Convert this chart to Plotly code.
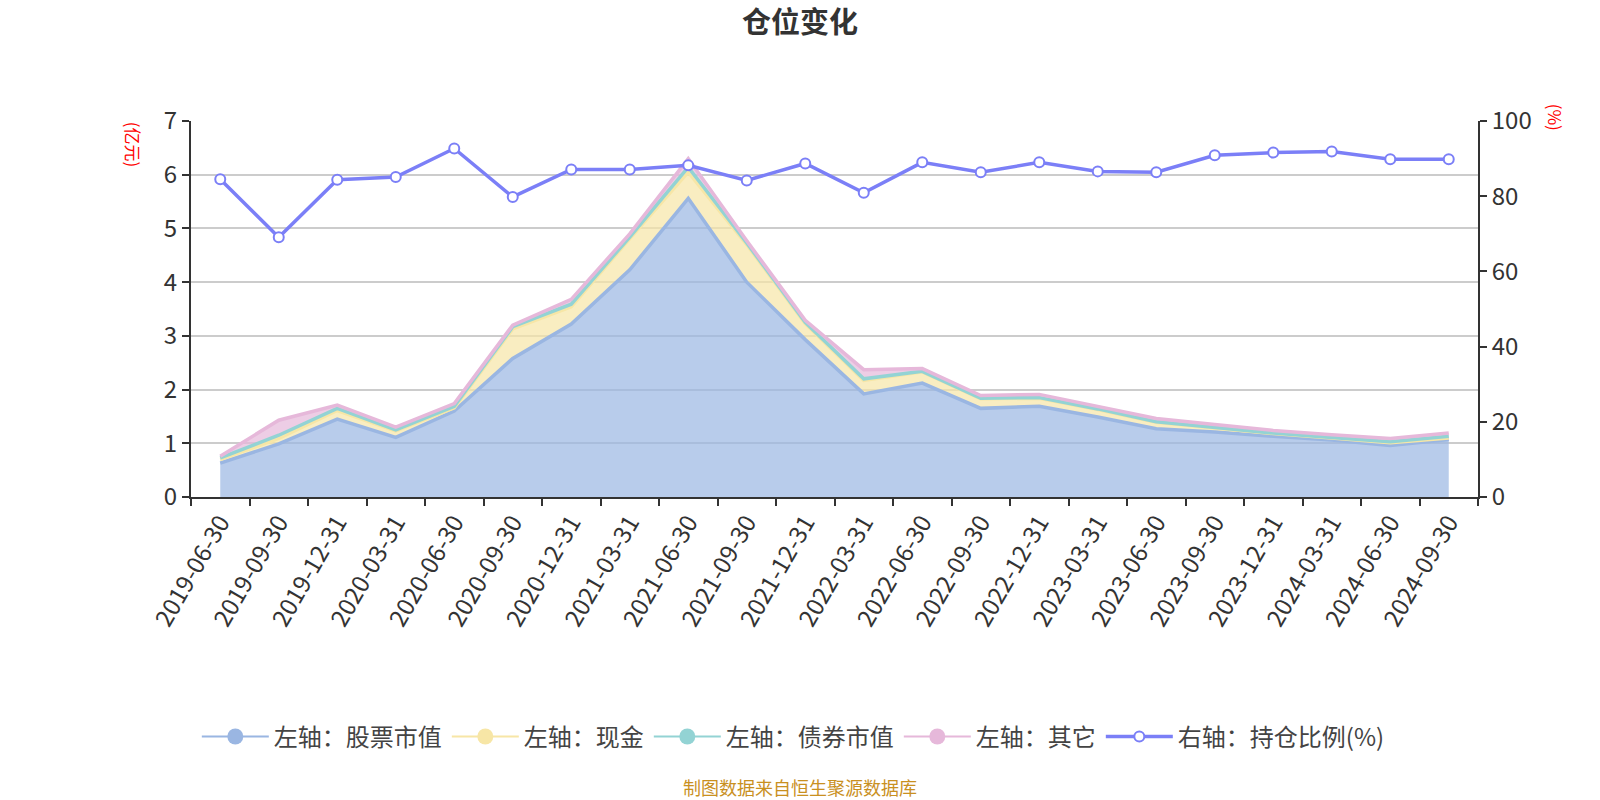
import plotly.graph_objects as go

dates = ["2019-06-30", "2019-09-30", "2019-12-31", "2020-03-31", "2020-06-30", "2020-09-30",
         "2020-12-31", "2021-03-31", "2021-06-30", "2021-09-30", "2021-12-31", "2022-03-31",
         "2022-06-30", "2022-09-30", "2022-12-31", "2023-03-31", "2023-06-30", "2023-09-30",
         "2023-12-31", "2024-03-31", "2024-06-30", "2024-09-30"]

stock = [0.63, 0.99, 1.45, 1.11, 1.60, 2.58, 3.22, 4.23, 5.56, 4.00, 2.93, 1.92,
         2.12, 1.65, 1.69, 1.49, 1.27, 1.21, 1.13, 1.06, 0.96, 1.07]
cash = [0.07, 0.10, 0.16, 0.12, 0.06, 0.55, 0.32, 0.58, 0.49, 0.70, 0.30, 0.25,
        0.21, 0.18, 0.15, 0.14, 0.12, 0.07, 0.05, 0.04, 0.05, 0.03]
bond = [0.03, 0.06, 0.04, 0.02, 0.03, 0.04, 0.05, 0.03, 0.09, 0.03, 0.02, 0.03,
        0.01, 0.01, 0.01, 0.01, 0.01, 0.01, 0.01, 0.01, 0.02, 0.03]
other = [0.03, 0.28, 0.06, 0.05, 0.05, 0.03, 0.09, 0.06, 0.16, 0.04, 0.04, 0.17,
         0.05, 0.05, 0.06, 0.05, 0.06, 0.06, 0.05, 0.05, 0.06, 0.06]
ratio = [84.5, 69.1, 84.4, 85.1, 92.7, 79.8, 87.1, 87.1, 88.2, 84.2, 88.7, 80.9,
         89.0, 86.4, 89.0, 86.6, 86.4, 90.9, 91.6, 91.9, 89.8, 89.8]

names = ["左轴：股票市值", "左轴：现金", "左轴：债券市值", "左轴：其它"]
line_colors = ["#9ab6e2", "#f7e6a6", "#93d3d4", "#e6b8da"]
fill_colors = ["rgba(154,182,226,0.7)", "rgba(247,230,166,0.7)",
               "rgba(147,211,212,0.7)", "rgba(230,184,218,0.7)"]
ratio_name = "右轴：持仓比例(%)"
ratio_color = "#7b7ff7"

FONT = "Noto Sans CJK SC, Noto Sans, sans-serif"

fig = go.Figure()
for vals, nm, lc, fc in zip([stock, cash, bond, other], names, line_colors, fill_colors):
    fig.add_trace(go.Scatter(
        x=dates, y=vals, name=nm, mode="lines", stackgroup="one",
        line=dict(color=lc, width=3.5), fillcolor=fc, showlegend=False,
        hoverinfo="x+y+name"))

# legend entries
for nm, lc in zip(names, line_colors):
    fig.add_trace(go.Scatter(
        x=[None], y=[None], name=nm, mode="lines+markers",
        line=dict(color=lc, width=2), marker=dict(color=lc, size=16)))

fig.add_trace(go.Scatter(
    x=dates, y=ratio, name=ratio_name, yaxis="y2", mode="lines+markers",
    line=dict(color=ratio_color, width=3.5),
    marker=dict(color="white", size=10, line=dict(color=ratio_color, width=2))))

fig.update_layout(
    width=1600, height=800,
    paper_bgcolor="white", plot_bgcolor="white",
    margin=dict(l=191, r=122, t=121, b=303),
    font=dict(family=FONT, color="#333333", size=24),
    title=dict(text="<b>仓位变化</b>", x=0.5, xanchor="center", y=0.972, yanchor="middle",
               font=dict(size=29, color="#333333", family=FONT)),
    xaxis=dict(type="category", range=[-0.5, 21.5], tickson="boundaries",
               ticks="outside", ticklen=7, tickwidth=2, tickcolor="#333333",
               showline=True, linecolor="#333333", linewidth=2,
               showgrid=False, tickangle=-60,
               tickfont=dict(size=24, color="#333333")),
    yaxis=dict(range=[0, 7], dtick=1, ticks="outside", ticklen=7, tickwidth=2,
               tickcolor="#333333", showline=True, linecolor="#333333", linewidth=2,
               showgrid=True, gridcolor="#cccccc", gridwidth=2, zeroline=False,
               tickfont=dict(size=24, color="#333333")),
    yaxis2=dict(range=[0, 100], dtick=20, overlaying="y", side="right",
                ticks="outside", ticklen=7, tickwidth=2, tickcolor="#333333",
                showline=True, linecolor="#333333", linewidth=2,
                showgrid=False, zeroline=False,
                tickfont=dict(size=24, color="#333333")),
    legend=dict(orientation="h", x=0.468, xanchor="center", y=-0.638, yanchor="middle",
                font=dict(size=24, color="#444444"), itemwidth=67,
                traceorder="normal"),
    annotations=[
        dict(text="(亿元)", xref="paper", yref="paper", x=-0.044, y=0.936,
             xanchor="center", yanchor="middle",
             showarrow=False, textangle=90, font=dict(size=17, color="red")),
        dict(text="(%)", xref="paper", yref="paper", x=1.06, y=1.011,
             xanchor="center", yanchor="middle",
             showarrow=False, textangle=90, font=dict(size=17, color="red")),
        dict(text="制图数据来自恒生聚源数据库", xref="paper", yref="paper",
             x=0.4732, y=-0.771, showarrow=False, xanchor="center", yanchor="middle",
             font=dict(size=18, color="#c9901f")),
    ],
)

fig.write_html("out.html")
